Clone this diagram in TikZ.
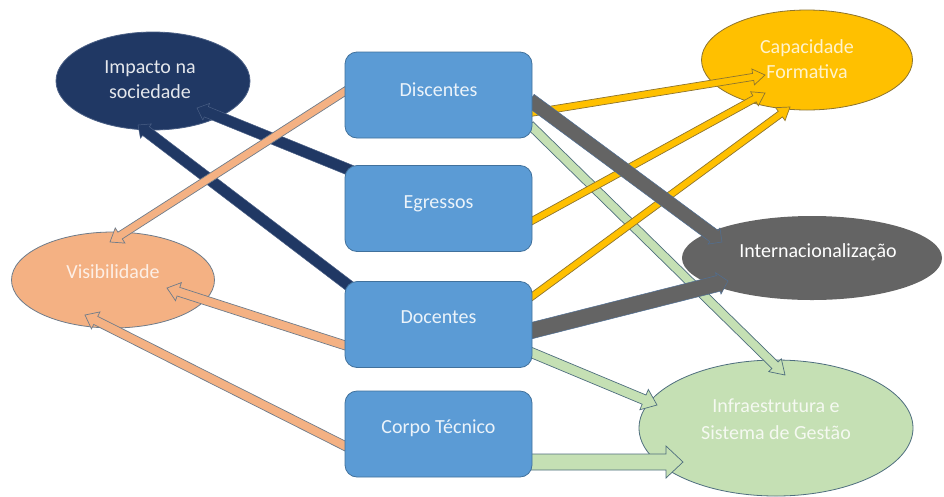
\documentclass[tikz,border=0pt]{standalone}
\usepackage{fontspec}
\setmainfont{Carlito}
\usetikzlibrary{shapes.geometric,calc}
\definecolor{boxfill}{HTML}{5B9BD5}
\definecolor{boxline}{HTML}{41719C}
\definecolor{navy}{HTML}{203864}
\definecolor{navyline}{HTML}{4A5F85}
\definecolor{gold}{HTML}{FFC000}
\definecolor{goldline}{HTML}{8C7430}
\definecolor{peach}{HTML}{F4B183}
\definecolor{peachline}{HTML}{6F7C8A}
\definecolor{darkgray}{HTML}{646464}
\definecolor{grayline}{HTML}{4F6F95}
\definecolor{lightgreen}{HTML}{C5E0B4}
\definecolor{greenline}{HTML}{4E6E7E}
% block arrow: #1 style, #2 from, #3 to, #4 half shaft, #5 half head, #6 head length (pt)
\newcommand\blockarrow[6]{%
  \coordinate (bH) at ($(#3)!#6pt!(#2)$);
  \filldraw[#1] ($(#2)!#4pt!90:(#3)$) -- ($(bH)!#4pt!90:(#3)$) -- ($(bH)!#5pt!90:(#3)$)
    -- (#3) -- ($(bH)!#5pt!-90:(#3)$) -- ($(bH)!#4pt!-90:(#3)$) -- ($(#2)!#4pt!-90:(#3)$) -- cycle;
}
\begin{document}
\begin{tikzpicture}[x=1pt,y=-1pt,
  box/.style={rectangle,rounded corners=12pt,fill=boxfill,draw=boxline,line width=0.8pt,
    minimum width=187pt,minimum height=86pt,inner sep=0pt},
  oval/.style={ellipse,inner sep=0pt,line width=0.8pt},
  lbl/.style={font=\fontsize{20}{25}\selectfont,align=center,inner sep=0pt},
  one/.style={lbl,text height=14pt,text depth=4pt},
  greenarr/.style={fill=lightgreen,draw=greenline,line width=0.7pt,line join=miter},
  goldarr/.style={fill=gold,draw=goldline,line width=0.7pt,line join=miter},
  grayarr/.style={fill=darkgray,draw=grayline,line width=0.5pt,line join=miter},
  navyarr/.style={fill=navy,draw=navyline,line width=0.5pt,line join=miter},
  peacharr/.style={fill=peach,draw=peachline,line width=0.7pt,line join=miter}]
\useasboundingbox (0,0) rectangle (944,496);
\fill[white] (0,0) rectangle (944,496);

% ellipses
\node[oval,fill=navy,draw=navyline,minimum width=194pt,minimum height=98pt] (imp) at (153,81) {};
\node[oval,fill=gold,draw=goldline,minimum width=211pt,minimum height=100pt] (cap) at (807,60) {};
\node[oval,fill=peach,draw=peachline,minimum width=203pt,minimum height=96pt] (vis) at (113,280) {};
\node[oval,fill=darkgray,minimum width=260pt,minimum height=84pt] (int) at (812,258) {};
\node[oval,fill=lightgreen,draw=greenline,minimum width=274pt,minimum height=136pt] (inf) at (776,428) {};

\node[lbl,text=white!88!navy] (impT) at (150,80) {Impacto na\\sociedade};
\node[lbl,text=white!80!gold] (capT) at (807,59) {Capacidade\\Formativa};
\node[one,text=white!80!peach] (visT) at (113,273) {Visibilidade};
\node[one,text=white] (intT) at (818,252) {Internacionalização};
\node[lbl,font=\fontsize{20}{27}\selectfont,text=white!82!lightgreen] (infT) at (776,419) {Infraestrutura e\\Sistema de Gestão};

% arrow end points
\coordinate (g1s) at (530,125); \coordinate (g1e) at (785,375);
\coordinate (g2s) at (530,352); \coordinate (g2e) at (657,405);
\coordinate (g3s) at (530,462); \coordinate (g3e) at (683,462);
\coordinate (y1s) at (530,113); \coordinate (y1e) at (765,75);
\coordinate (y2s) at (530,222); \coordinate (y2e) at (765,93);
\coordinate (y3s) at (530,298); \coordinate (y3e) at (790,107);
\coordinate (k1s) at (530,100); \coordinate (k1e) at (722,242);
\coordinate (k2s) at (530,331); \coordinate (k2e) at (728,281);
\coordinate (n1s) at (352,171); \coordinate (n1e) at (197,108);
\coordinate (n2s) at (352,288); \coordinate (n2e) at (138,125);
\coordinate (o1s) at (347,90);  \coordinate (o1e) at (110,242);
\coordinate (o2s) at (347,346); \coordinate (o2e) at (167,288);
\coordinate (o3s) at (347,447); \coordinate (o3e) at (85,315);

% arrows
\blockarrow{greenarr}{g1s}{g1e}{4.5}{9}{14}
\blockarrow{greenarr}{g2s}{g2e}{5}{11}{14}
\blockarrow{greenarr}{g3s}{g3e}{8}{16}{17}
\blockarrow{goldarr}{y1s}{y1e}{3.5}{8}{12}
\blockarrow{goldarr}{y2s}{y2e}{3.5}{8}{12}
\blockarrow{goldarr}{y3s}{y3e}{3.5}{8}{12}
\blockarrow{grayarr}{k1s}{k1e}{7}{10}{10}
\blockarrow{grayarr}{k2s}{k2e}{8}{11}{10}
\blockarrow{navyarr}{n1s}{n1e}{5.5}{9}{10}
\blockarrow{navyarr}{n2s}{n2e}{5.5}{9}{10}
\blockarrow{peacharr}{o1s}{o1e}{4}{9}{12}
\blockarrow{peacharr}{o2s}{o2e}{4.5}{9.5}{12}
\blockarrow{peacharr}{o3s}{o3e}{4.5}{9.5}{12}

% boxes
\node[box] (disc) at (438.5,95) {};
\node[box] (egr) at (438.5,208.5) {};
\node[box] (doc) at (438.5,324.5) {};
\node[box] (corp) at (438.5,434) {};
\node[one,text=white!88!boxfill] (discT) at (438.5,91) {Discentes};
\node[one,text=white!88!boxfill] (egrT) at (438.5,203) {Egressos};
\node[one,text=white!88!boxfill] (docT) at (438.5,318) {Docentes};
\node[one,text=white!88!boxfill] (corpT) at (438.5,428) {Corpo Técnico};
\end{tikzpicture}
\end{document}
